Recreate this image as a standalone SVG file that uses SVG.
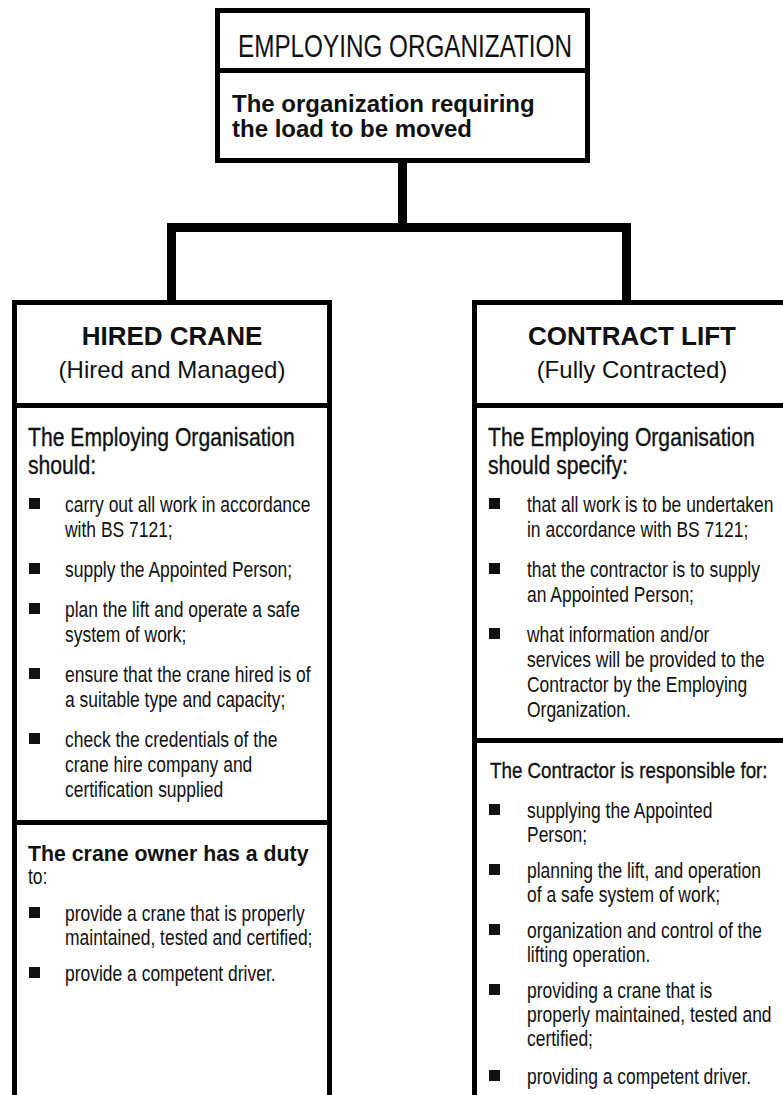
<svg xmlns="http://www.w3.org/2000/svg" width="783" height="1095" viewBox="0 0 783 1095">
<style>
  .box{fill:#fff;stroke:#000;stroke-width:5}
  .div{stroke:#000;stroke-width:5}
  .conn{fill:none;stroke:#000;stroke-width:9;stroke-linejoin:miter}
  text{font-family:"Liberation Sans",Arial,Helvetica,sans-serif;fill:#111}
  .t{font-size:21.3px}
  .h{font-size:25.8px;stroke:#111;stroke-width:0.35}
  .hs{font-size:22.9px;stroke:#111;stroke-width:0.35}
  .bold{font-weight:bold}
  .title{font-size:26px;font-weight:bold}
  .sub{font-size:24px}
  .c{text-anchor:middle}
</style>
<defs>
  <rect id="sq" width="11" height="11" fill="#111"/>
</defs>

<g id="connectors">
  <path class="conn" d="M402.5 160 V227.5"/>
  <path class="conn" d="M171.5 303 V227.5 H626.5 V303"/>
</g>

<g id="employing-organization">
  <rect class="box" x="217.5" y="10.5" width="370" height="150"/>
  <line class="div" x1="217.5" y1="70.5" x2="587.5" y2="70.5"/>
  <text x="405" y="57" class="c" style="font-size:32px" textLength="334" lengthAdjust="spacingAndGlyphs">EMPLOYING ORGANIZATION</text>
  <text x="232" y="112" class="bold" style="font-size:24px">The organization requiring</text>
  <text x="232" y="137" class="bold" style="font-size:24px">the load to be moved</text>
</g>

<g id="hired-crane">
  <rect class="box" x="14.5" y="302.5" width="315" height="900"/>
  <line class="div" x1="14.5" y1="405.5" x2="329.5" y2="405.5"/>
  <line class="div" x1="14.5" y1="822.5" x2="329.5" y2="822.5"/>
  <text x="172" y="345" class="title c">HIRED CRANE</text>
  <text x="172" y="378" class="sub c">(Hired and Managed)</text>
  <text x="28" y="861" class="bold" style="font-size:21.3px">The crane owner has a duty</text>
  <use href="#sq" x="29" y="498"/>
  <use href="#sq" x="29" y="563"/>
  <use href="#sq" x="29" y="603"/>
  <use href="#sq" x="29" y="668"/>
  <use href="#sq" x="29" y="733"/>
  <use href="#sq" x="29" y="907"/>
  <use href="#sq" x="29" y="967"/>
  <g transform="scale(0.82 1)">
    <text x="34.15" y="446" class="h">The Employing Organisation</text>
    <text x="34.15" y="474" class="h">should:</text>
    <text x="79.27" y="512" class="t">carry out all work in accordance</text>
    <text x="79.27" y="537" class="t">with BS 7121;</text>
    <text x="79.27" y="577" class="t">supply the Appointed Person;</text>
    <text x="79.27" y="617" class="t">plan the lift and operate a safe</text>
    <text x="79.27" y="642" class="t">system of work;</text>
    <text x="79.27" y="682" class="t">ensure that the crane hired is of</text>
    <text x="79.27" y="707" class="t">a suitable type and capacity;</text>
    <text x="79.27" y="747" class="t">check the credentials of the</text>
    <text x="79.27" y="772" class="t">crane hire company and</text>
    <text x="79.27" y="797" class="t">certification supplied</text>
    <text x="34.15" y="884" class="t">to:</text>
    <text x="79.27" y="921" class="t">provide a crane that is properly</text>
    <text x="79.27" y="945" class="t">maintained, tested and certified;</text>
    <text x="79.27" y="981" class="t">provide a competent driver.</text>
  </g>
</g>

<g id="contract-lift">
  <rect class="box" x="474.5" y="302.5" width="400" height="900"/>
  <line class="div" x1="474.5" y1="405.5" x2="874.5" y2="405.5"/>
  <line class="div" x1="474.5" y1="740.5" x2="874.5" y2="740.5"/>
  <text x="632" y="345" class="title c">CONTRACT LIFT</text>
  <text x="632" y="378" class="sub c">(Fully Contracted)</text>
  <use href="#sq" x="489" y="498"/>
  <use href="#sq" x="489" y="563"/>
  <use href="#sq" x="489" y="628"/>
  <use href="#sq" x="489" y="804"/>
  <use href="#sq" x="489" y="864"/>
  <use href="#sq" x="489" y="924"/>
  <use href="#sq" x="489" y="984"/>
  <use href="#sq" x="489" y="1070"/>
  <g transform="scale(0.82 1)">
    <text x="595.12" y="446" class="h">The Employing Organisation</text>
    <text x="595.12" y="474" class="h">should specify:</text>
    <text x="642.68" y="512" class="t">that all work is to be undertaken</text>
    <text x="642.68" y="537" class="t">in accordance with BS 7121;</text>
    <text x="642.68" y="577" class="t">that the contractor is to supply</text>
    <text x="642.68" y="602" class="t">an Appointed Person;</text>
    <text x="642.68" y="642" class="t">what information and/or</text>
    <text x="642.68" y="667" class="t">services will be provided to the</text>
    <text x="642.68" y="692" class="t">Contractor by the Employing</text>
    <text x="642.68" y="717" class="t">Organization.</text>
    <text x="597.56" y="778" class="hs">The Contractor is responsible for:</text>
    <text x="642.68" y="818" class="t">supplying the Appointed</text>
    <text x="642.68" y="842" class="t">Person;</text>
    <text x="642.68" y="878" class="t">planning the lift, and operation</text>
    <text x="642.68" y="902" class="t">of a safe system of work;</text>
    <text x="642.68" y="938" class="t">organization and control of the</text>
    <text x="642.68" y="962" class="t">lifting operation.</text>
    <text x="642.68" y="998" class="t">providing a crane that is</text>
    <text x="642.68" y="1022" class="t">properly maintained, tested and</text>
    <text x="642.68" y="1046" class="t">certified;</text>
    <text x="642.68" y="1084" class="t">providing a competent driver.</text>
  </g>
</g>
</svg>
